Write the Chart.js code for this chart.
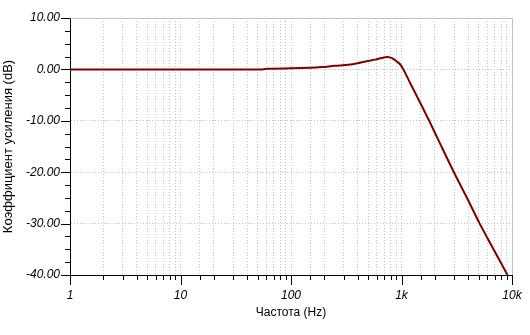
<!DOCTYPE html>
<html>
<head>
<meta charset="utf-8">
<script src="https://cdn.jsdelivr.net/npm/chart.js@4"></script>
<style>
html,body{margin:0;padding:0;background:#fff;}
canvas{display:block;}
</style>
</head>
<body>
<canvas id="c" width="530" height="335"></canvas>
<script>
// Frequency response data
const freqHz = [1, 10, 30, 55, 62, 100, 150, 190, 250, 330, 400, 480, 580, 660, 735, 800, 850, 900, 970, 1040, 1200, 1400, 1600, 1780, 2230, 2980, 4000, 5100, 6500, 9100];
const gainDb = [0, 0, 0, 0, 0.15, 0.2, 0.3, 0.45, 0.7, 0.9, 1.2, 1.6, 1.9, 2.2, 2.4, 2.3, 2.0, 1.6, 1.0, 0, -2.7, -5.5, -8.0, -10, -14.4, -20, -25.4, -30, -34.2, -40];

const xTickValues = [1, 10, 100, 1000, 10000];
const xTickLabels = ['1', '10', '100', '1k', '10k'];
const yTickValues = [10, 0, -10, -20, -30, -40];
const yTickLabels = ['10.00', '0.00', '-10.00', '-20.00', '-30.00', '-40.00'];

const xTitle = 'Частота (Hz)';
const yTitle = 'Коэффициент усиления (dB)';

const GRID = '#c0c0c0';
const tickFont = {family: 'Liberation Sans', size: 12, style: 'italic'};

const tickPlugin = {
  id: 'tickMarks',
  afterDraw(chart) {
    const ctx = chart.ctx;
    const xs = chart.scales.x, ys = chart.scales.y;
    const a = chart.chartArea;
    ctx.save();
    // frame top/right
    ctx.strokeStyle = GRID;
    ctx.lineWidth = 1;
    ctx.beginPath();
    ctx.moveTo(Math.round(a.left) + 0.5, Math.round(a.top) + 0.5);
    ctx.lineTo(Math.round(a.right) + 0.5, Math.round(a.top) + 0.5);
    ctx.lineTo(Math.round(a.right) + 0.5, Math.round(a.bottom) + 0.5);
    ctx.stroke();
    ctx.strokeStyle = '#000';
    ctx.beginPath();
    ys.ticks.forEach(t => {
      const py = Math.round(ys.getPixelForValue(t.value)) + 0.5;
      const major = yTickValues.includes(t.value);
      const len = major ? 9 : 5;
      ctx.moveTo(Math.round(a.left) - len, py);
      ctx.lineTo(Math.round(a.left), py);
    });
    xs.ticks.forEach(t => {
      const px = Math.round(xs.getPixelForValue(t.value)) + 0.5;
      const major = xTickValues.includes(t.value);
      const len = major ? 10 : 5;
      ctx.moveTo(px, Math.round(a.bottom));
      ctx.lineTo(px, Math.round(a.bottom) + len);
    });
    ctx.stroke();
    ctx.restore();
  }
};

new Chart(document.getElementById('c'), {
  type: 'line',
  data: {
    datasets: [{
      data: freqHz.map((f, i) => ({x: f, y: gainDb[i]})),
      borderColor: '#800000',
      borderWidth: 2,
      pointRadius: 0,
      cubicInterpolationMode: 'monotone',
      fill: false
    }]
  },
  options: {
    responsive: false,
    animation: false,
    layout: {padding: {top: 18, right: 18, left: 0, bottom: 0}},
    plugins: {legend: {display: false}, tooltip: {enabled: false}},
    scales: {
      x: {
        type: 'logarithmic',
        min: 1, max: 10000,
        afterFit(s) { s.height = 60; s.paddingLeft = 0; s.paddingRight = 0; },
        grid: {color: GRID, lineWidth: 1, drawTicks: false},
        border: {display: true, color: '#000', width: 1, dash: [1, 2]},
        ticks: {
          autoSkip: false, maxRotation: 0, padding: 13, color: '#000', font: tickFont,
          callback: (v) => { const i = xTickValues.indexOf(v); return i >= 0 ? xTickLabels[i] : ''; }
        },
        title: {display: true, text: xTitle, color: '#000', font: {family: 'Liberation Sans', size: 12}, padding: {top: 0, bottom: 15}}
      },
      y: {
        type: 'linear',
        min: -40, max: 10,
        afterFit(s) { s.width = 70; s.paddingTop = 0; s.paddingBottom = 0; },
        grid: {
          color: (c) => (c.tick && yTickValues.includes(c.tick.value)) ? GRID : 'rgba(0,0,0,0)',
          lineWidth: 1, drawTicks: false
        },
        border: {display: true, color: '#000', width: 1, dash: [1, 2]},
        ticks: {
          stepSize: 2.5, autoSkip: false, padding: 10, color: '#000', font: tickFont,
          callback: (v) => { const i = yTickValues.indexOf(v); return i >= 0 ? yTickLabels[i] : ''; }
        },
        title: {display: true, text: yTitle, color: '#000', font: {family: 'Liberation Sans', size: 13}, padding: {top: 1, bottom: 0}}
      }
    }
  },
  plugins: [tickPlugin]
});
</script>
</body>
</html>
